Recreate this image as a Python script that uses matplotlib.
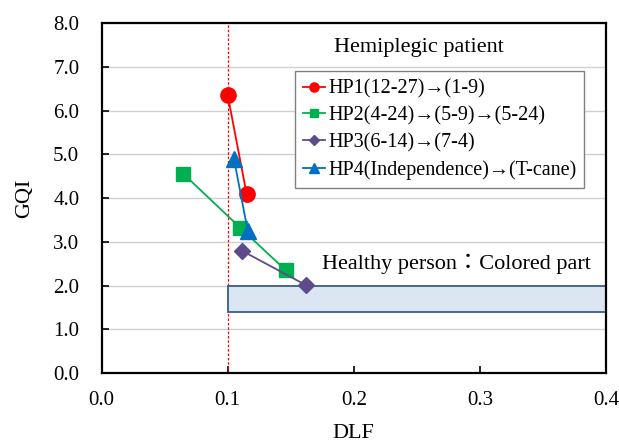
import matplotlib
matplotlib.use("Agg")
import matplotlib.pyplot as plt
from matplotlib.patches import Rectangle

plt.rcParams['font.family'] = ['Liberation Serif', 'DejaVu Serif']

# DLF / GQI per patient, before -> after
hp1_x = [0.100, 0.115]
hp1_y = [6.36, 4.10]
hp2_x = [0.065, 0.110, 0.146]
hp2_y = [4.55, 3.32, 2.35]
hp3_x = [0.111, 0.162]
hp3_y = [2.80, 2.01]
hp4_x = [0.105, 0.116]
hp4_y = [4.90, 3.24]

labels = ["HP1(12-27)→(1-9)",
          "HP2(4-24)→(5-9)→(5-24)",
          "HP3(6-14)→(7-4)",
          "HP4(Independence)→(T-cane)"]

healthy_x = [0.1, 0.4]
healthy_y = [1.4, 2.0]

fig = plt.figure(figsize=(6.19, 4.43), dpi=100)
ax = fig.add_axes([0.164, 0.158, 0.815, 0.790])

ax.set_xlim(0, 0.4)
ax.set_ylim(0, 8)
ax.set_xticks([0, 0.1, 0.2, 0.3, 0.4])
ax.set_yticks(range(0, 9))
ax.set_xticklabels(["%.1f" % v for v in [0, 0.1, 0.2, 0.3, 0.4]])
ax.set_yticklabels(["%.1f" % v for v in range(0, 9)])
ax.tick_params(direction='in', labelsize=15, length=5, width=1.2)
ax.tick_params(axis='x', pad=13)
ax.tick_params(axis='y', pad=16)
ax.yaxis.grid(True, color='#d0d0d0', lw=1)
ax.set_axisbelow(True)
for s in ax.spines.values():
    s.set_linewidth(1.6)

ax.axvline(0.1, color='red', lw=0.9, ls=(0, (2, 1.5)), zorder=1)

ax.add_patch(Rectangle((healthy_x[0], healthy_y[0]), healthy_x[1] - healthy_x[0],
                       healthy_y[1] - healthy_y[0], facecolor='#dce6f2',
                       edgecolor='#385d8a', lw=1.3, zorder=2))

ax.plot(hp1_x, hp1_y, '-o', color='#ff0000', ms=11, lw=1.3, label=labels[0], zorder=5)
ax.plot(hp2_x, hp2_y, '-s', color='#00b050', ms=10, lw=1.3, label=labels[1], zorder=4)
ax.plot(hp3_x, hp3_y, '-D', color='#5f4b8b', ms=8, lw=1.3, label=labels[2], zorder=4)
ax.plot(hp4_x, hp4_y, '-^', color='#0070c0', ms=11, lw=1.3, label=labels[3], zorder=5)

leg = ax.legend(loc='upper left', bbox_to_anchor=(0.383, 0.862), fontsize=14.5,
                markerscale=0.6, handlelength=1.1, handletextpad=0.15,
                labelspacing=0.38, borderpad=0.4, borderaxespad=0,
                fancybox=False, framealpha=1)
leg.get_frame().set_edgecolor('#808080')
leg.get_frame().set_linewidth(1)

ax.text(0.252, 7.45, "Hemiplegic patient", ha='center', va='center', fontsize=16)
ax.text(0.175, 2.5, "Healthy person：Colored part", ha='left', va='center', fontsize=16,
        family=['Liberation Serif', 'Noto Sans CJK JP'])

ax.set_xlabel("DLF", fontsize=16, labelpad=10)
ax.set_ylabel("GQI", fontsize=16, labelpad=14)

fig.savefig("out.png", dpi=100)
